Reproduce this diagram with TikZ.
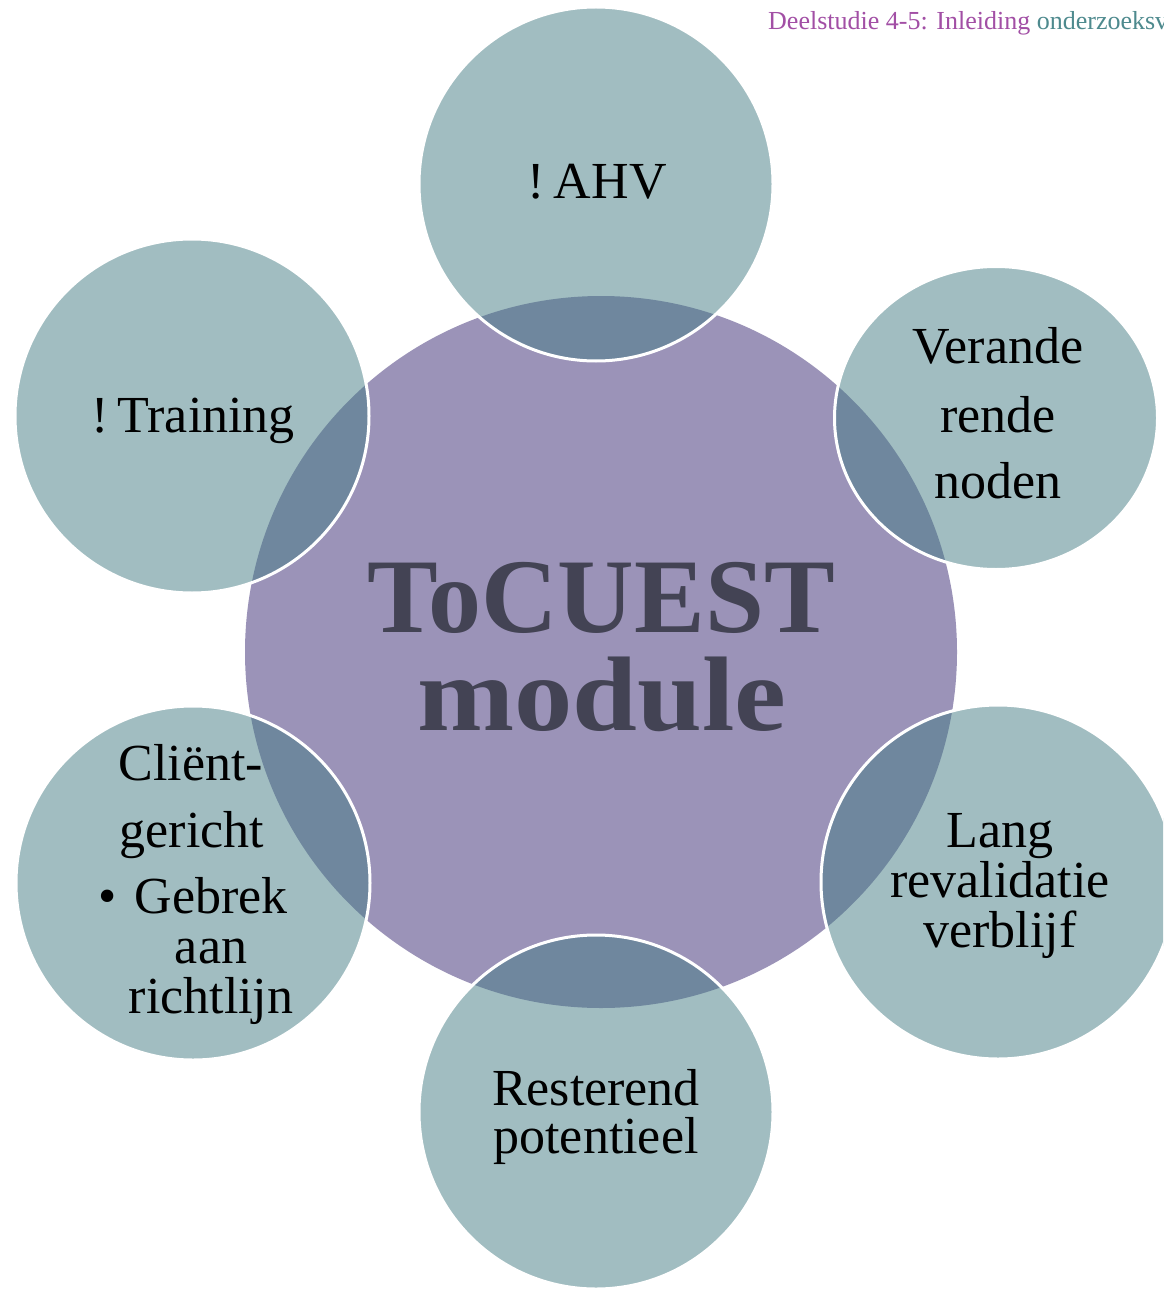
\documentclass[tikz,border=0pt]{standalone}
\usepackage{fontspec}
\setmainfont{Liberation Serif}
\usetikzlibrary{shapes.geometric}
\definecolor{centrefill}{HTML}{9B93B8}
\definecolor{satfill}{HTML}{457D85}
\definecolor{centretext}{HTML}{434354}
\definecolor{headpurple}{HTML}{A24FA5}
\definecolor{headteal}{HTML}{4E8A8E}
\tikzset{
  centrecirc/.style={circle, fill=centrefill, inner sep=0pt, outer sep=0pt, minimum size=712pt},
  satcirc/.style={circle, fill=satfill, fill opacity=0.5, draw=white, draw opacity=1, line width=3pt, inner sep=0pt, outer sep=0pt, minimum size=354pt},
  satell/.style={ellipse, fill=satfill, fill opacity=0.5, draw=white, draw opacity=1, line width=3pt, inner sep=0pt, outer sep=0pt, minimum width=323pt, minimum height=303pt},
  sattext/.style={anchor=base, inner sep=0pt, font=\fontsize{52}{60}\selectfont, text=black},
  maintext/.style={anchor=base, inner sep=0pt, font=\fontsize{106}{110}\selectfont\bfseries, text=centretext},
  headtext/.style={anchor=base west, inner sep=0pt, font=\fontsize{26}{30}\selectfont}
}
\begin{document}
\begin{tikzpicture}[x=1pt,y=-1pt]
\useasboundingbox (0,0) rectangle (1163,1289);
\clip (0,0) rectangle (1163,1289);
\fill[white] (0,0) rectangle (1163,1289);

% central circle
\node[centrecirc] (centre) at (601,652) {};

% satellite circles
\node[satcirc] (ahv) at (596,184) {};
\node[satcirc] (training) at (192,416) {};
\node[satell] (noden) at (996,418) {};
\node[satcirc] (lang) at (998,882) {};
\node[satcirc] (rest) at (596,1112) {};
\node[satcirc] (client) at (193,883) {};

% central text
\node[maintext] (t1) at (601,632) {ToCUEST};
\node[maintext] (t2) at (602,730) {\scalebox{1.1}[1]{module}};

% satellite texts
\node[sattext] (ahvt) at (597,199) {!\hspace{0.18em}AHV};
\node[sattext] (trt) at (193,432) {!\hspace{0.18em}Training};

\node[sattext] (n1) at (998,363) {Verande};
\node[sattext] (n2) at (998,432) {rende};
\node[sattext] (n3) at (998,498) {noden};

\node[sattext] (l1) at (1000,847) {Lang};
\node[sattext] (l2) at (1000,897) {revalidatie};
\node[sattext] (l3) at (1000,947) {verblijf};

\node[sattext] (r1) at (596,1105) {Resterend};
\node[sattext] (r2) at (596,1153) {potentieel};

\node[sattext] (c1) at (191,780) {Cliënt-};
\node[sattext] (c2) at (192,847) {gericht};
\node[sattext] (cb) at (108,913) {•};
\node[sattext] (c3) at (211,913) {Gebrek};
\node[sattext] (c4) at (211,963) {aan};
\node[sattext] (c5) at (211,1013) {richtlijn};

% header (cut off at the right edge, as in the reference)
\node[headtext] (head) at (768,30) {\textcolor{headpurple}{Deelstudie 4-5: Inleiding} \textcolor{headteal}{onderzoeksv}};
\end{tikzpicture}
\end{document}
